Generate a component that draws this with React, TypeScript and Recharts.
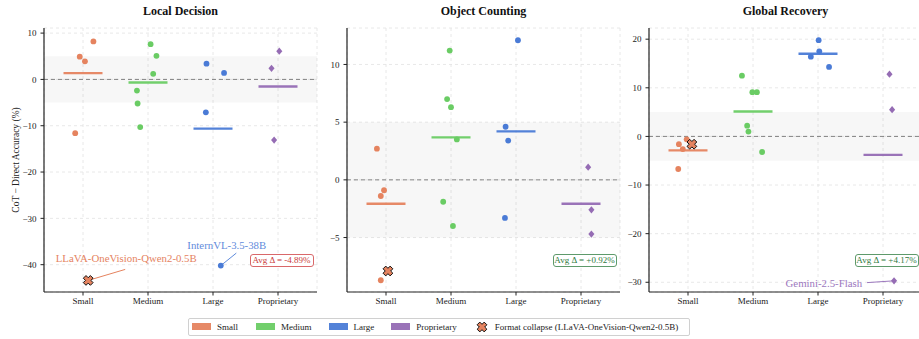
import React from "react";
import {
  ScatterChart,
  Scatter,
  XAxis,
  YAxis,
  CartesianGrid,
  ReferenceLine,
  ReferenceArea,
} from "recharts";

// ---------- data ----------
const categories = ["Small", "Medium", "Large", "Proprietary"];

// Local Decision (per category: values of CoT − Direct, and horizontal jitter)
const localValues = [
  [8.2, 4.9, 3.9, -11.6],
  [7.6, 5.1, 1.2, -2.4, -5.2, -10.3],
  [3.4, 1.4, -7.1, -40.2],
  [6.1, 2.4, -13.1],
];
const localJitter = [
  [0.16, -0.05, 0.03, -0.12],
  [0.04, 0.13, 0.08, -0.17, -0.16, -0.12],
  [-0.1, 0.17, -0.11, 0.12],
  [0.02, -0.1, -0.06],
];
const localCollapse = [-43.4];
const localCollapseJitter = [0.08];
const localAvg = "Avg Δ = -4.89%";

// Object Counting
const countingValues = [
  [2.7, -0.9, -1.4, -8.7],
  [11.2, 7.0, 6.3, 3.5, -1.9, -4.0],
  [12.1, 4.6, 3.4, -3.3],
  [1.1, -2.6, -4.7],
];
const countingJitter = [
  [-0.14, -0.03, -0.08, -0.08],
  [-0.02, -0.06, 0.0, 0.09, -0.12, 0.03],
  [0.03, -0.16, -0.12, -0.17],
  [0.11, 0.16, 0.16],
];
const countingCollapse = [-7.9];
const countingCollapseJitter = [0.03];
const countingAvg = "Avg Δ = +0.92%";

// Global Recovery
const globalValues = [
  [-1.6, -0.6, -2.6, -6.7],
  [12.5, 9.1, 9.1, 2.2, 1.0, -3.2],
  [19.8, 17.5, 16.4, 14.3],
  [12.8, 5.5, -29.7],
];
const globalJitter = [
  [-0.14, -0.02, -0.08, -0.15],
  [-0.17, -0.01, 0.06, -0.09, -0.07, 0.14],
  [0.01, 0.02, -0.11, 0.17],
  [0.1, 0.14, 0.17],
];
const globalCollapse = [-1.6];
const globalCollapseJitter = [0.06];
const globalAvg = "Avg Δ = +4.17%";

// named outliers: [panel, category index, point index, name]
const localNamed = [[2, 3, "InternVL-3.5-38B"]];
const countingNamed: any[] = [];
const globalNamed = [[3, 2, "Gemini-2.5-Flash"]];
const localCollapseName = "LLaVA-OneVision-Qwen2-0.5B";

// ---------- styles ----------
const FONT = '"Liberation Serif", "Times New Roman", "DejaVu Serif", serif';
const COLORS = ["#E5835F", "#6ACC64", "#4A7BD6", "#956CB4"];
const GOOD = { text: "#2F7A3E", border: "#5E9A6B" };
const BAD = { text: "#C93A3A", border: "#D9686A" };

const annotationStyle: Record<string, any> = {
  "LLaVA-OneVision-Qwen2-0.5B": { tx: 38, ty: -22, lx: 37, ly: -11, anchor: "middle", color: COLORS[0] },
  "InternVL-3.5-38B": { tx: 6, ty: -21, lx: 15.5, ly: -12.5, anchor: "middle", color: "#5F8BDB" },
  "Gemini-2.5-Flash": { tx: -32, ty: 1.8, lx: -27, ly: 1.8, anchor: "end", color: "#9C78BE" },
};

function Annotation({ cx, cy, name }: any) {
  const s = annotationStyle[name];
  if (!s) return null;
  return (
    <g>
      <line x1={cx} y1={cy} x2={cx + s.lx} y2={cy + s.ly} stroke={s.color} strokeWidth={1} />
      <text
        x={cx + s.tx}
        y={cy + s.ty}
        textAnchor={s.anchor}
        dominantBaseline="central"
        fontFamily={FONT}
        fontSize={10.8}
        fill={s.color}
      >
        {name}
      </text>
    </g>
  );
}

function Dot(props: any) {
  const { cx, cy, payload, fill } = props;
  if (cx == null || cy == null) return null;
  return (
    <g>
      {payload.name ? <Annotation cx={cx} cy={cy} name={payload.name} /> : null}
      <circle cx={cx} cy={cy} r={2.9} fill={fill} />
    </g>
  );
}

function Diamond(props: any) {
  const { cx, cy, payload, fill } = props;
  if (cx == null || cy == null) return null;
  const r = 3.6;
  return (
    <g>
      {payload.name ? <Annotation cx={cx} cy={cy} name={payload.name} /> : null}
      <path d={`M${cx},${cy - r}L${cx + r * 0.85},${cy}L${cx},${cy + r}L${cx - r * 0.85},${cy}Z`} fill={fill} />
    </g>
  );
}

function crossPath(cx: number, cy: number, a: number, b: number) {
  const pts = [
    [-b, -a], [b, -a], [b, -b], [a, -b], [a, b], [b, b], [b, a], [-b, a], [-b, b], [-a, b], [-a, -b], [-b, -b],
  ];
  const c = Math.SQRT1_2;
  return (
    "M" +
    pts
      .map(([x, y]) => `${cx + (x - y) * c},${cy + (x + y) * c}`)
      .join("L") +
    "Z"
  );
}

function CrossMarker(props: any) {
  const { cx, cy, payload } = props;
  if (cx == null || cy == null) return null;
  return (
    <g>
      {payload && payload.name ? <Annotation cx={cx} cy={cy} name={payload.name} /> : null}
      <path d={crossPath(cx, cy, 5, 1.9)} fill={COLORS[0]} stroke="#111" strokeWidth={1} />
    </g>
  );
}

const fmt = (v: number) => (v < 0 ? "−" + Math.abs(v) : String(v));

function Panel({
  left, width, yWidth, values, jitter, collapse, collapseJitter, collapseName, named, domain, ticks, title, avg, avgGood,
}: any) {
  const series = values.map((vals: number[], ci: number) =>
    vals.map((v, i) => {
      const n = named.find((m: any) => m[0] === ci && m[1] === i);
      return { x: ci + jitter[ci][i], y: v, name: n ? n[2] : undefined };
    })
  );
  const means = values.map((vals: number[]) => vals.reduce((a, b) => a + b, 0) / vals.length);
  const collapseData = collapse.map((v: number, i: number) => ({
    x: collapseJitter[i],
    y: v,
    name: collapseName,
  }));
  const H = 339;
  const mTop = 28;
  const xH = 47;
  const plotLeft = yWidth;
  const plotRight = width - 3;
  const boxW = 64;
  const boxC = avgGood ? GOOD : BAD;
  return (
    <div style={{ position: "absolute", left, top: 0, width, height: H }}>
      <ScatterChart width={width} height={H} margin={{ top: mTop, right: 3, bottom: 0, left: 0 }}>
        <CartesianGrid strokeDasharray="3 3" stroke="#e2e2e2" strokeWidth={0.8} />
        <ReferenceArea y1={-5} y2={5} fill="#000" fillOpacity={0.03} stroke="none" />
        <XAxis
          type="number"
          dataKey="x"
          domain={[-0.6, 3.6]}
          ticks={[0, 1, 2, 3]}
          tickFormatter={(i: number) => categories[i]}
          allowDataOverflow
          height={xH}
          tickSize={3.5}
          tickMargin={2}
          axisLine={{ stroke: "#222", strokeWidth: 1.2 }}
          tickLine={{ stroke: "#222" }}
          tick={{ fontSize: 9, fill: "#222", fontFamily: FONT }}
        />
        <YAxis
          type="number"
          dataKey="y"
          domain={domain}
          ticks={ticks}
          allowDataOverflow
          width={yWidth}
          tickSize={3.5}
          tickMargin={4}
          tickFormatter={fmt}
          axisLine={{ stroke: "#222", strokeWidth: 1.2 }}
          tickLine={{ stroke: "#222" }}
          tick={{ fontSize: 9, fill: "#222", fontFamily: FONT }}
        />
        <ReferenceLine y={0} stroke="#777" strokeDasharray="4 3" strokeWidth={0.9} />
        {means.map((m: number, ci: number) => (
          <ReferenceLine
            key={"m" + ci}
            segment={[
              { x: ci - 0.3, y: m },
              { x: ci + 0.3, y: m },
            ]}
            stroke={COLORS[ci]}
            strokeWidth={2.4}
            strokeOpacity={0.95}
          />
        ))}
        {series.map((d: any[], ci: number) => (
          <Scatter
            key={categories[ci]}
            name={categories[ci]}
            data={d}
            fill={COLORS[ci]}
            isAnimationActive={false}
            shape={ci === 3 ? <Diamond /> : <Dot />}
          />
        ))}
        <Scatter name="Format collapse" data={collapseData} fill={COLORS[0]} isAnimationActive={false} shape={<CrossMarker />} />
      </ScatterChart>
      <div
        style={{
          position: "absolute",
          left: plotLeft,
          width: plotRight - plotLeft,
          top: 4,
          textAlign: "center",
          fontFamily: FONT,
          fontWeight: "bold",
          fontSize: 12,
          color: "#111",
        }}
      >
        {title}
      </div>
      <div
        style={{
          position: "absolute",
          left: plotRight - 3.5 - boxW,
          top: 254,
          width: boxW,
          height: 13,
          boxSizing: "border-box",
          border: `1px solid ${boxC.border}`,
          borderRadius: 3,
          background: "#fff",
          fontFamily: FONT,
          fontSize: 9,
          lineHeight: "11px",
          textAlign: "center",
          color: boxC.text,
          whiteSpace: "nowrap",
        }}
      >
        {avg}
      </div>
    </div>
  );
}

function LegendItem({ color, label, ml }: any) {
  return (
    <div style={{ display: "flex", alignItems: "center", marginLeft: ml }}>
      <div style={{ width: 19, height: 7.5, background: color, opacity: 0.95 }} />
      <span style={{ marginLeft: 6 }}>{label}</span>
    </div>
  );
}

export default function App() {
  return (
    <div style={{ position: "absolute", left: 0, top: 0, width: 919, height: 339, overflow: "hidden", background: "#fff" }}>
      <Panel
        left={0}
        width={320}
        yWidth={44}
        values={localValues}
        jitter={localJitter}
        collapse={localCollapse}
        collapseJitter={localCollapseJitter}
        collapseName={localCollapseName}
        named={localNamed}
        domain={[-45.9, 11.1]}
        ticks={[-40, -30, -20, -10, 0, 10]}
        title="Local Decision"
        avg={localAvg}
        avgGood={false}
      />
      <Panel
        left={305}
        width={318}
        yWidth={42}
        values={countingValues}
        jitter={countingJitter}
        collapse={countingCollapse}
        collapseJitter={countingCollapseJitter}
        collapseName={undefined}
        named={countingNamed}
        domain={[-9.72, 13.16]}
        ticks={[-5, 0, 5, 10]}
        title="Object Counting"
        avg={countingAvg}
        avgGood={true}
      />
      <Panel
        left={607}
        width={318}
        yWidth={42}
        values={globalValues}
        jitter={globalJitter}
        collapse={globalCollapse}
        collapseJitter={globalCollapseJitter}
        collapseName={undefined}
        named={globalNamed}
        domain={[-32, 22.3]}
        ticks={[-30, -20, -10, 0, 10, 20]}
        title="Global Recovery"
        avg={globalAvg}
        avgGood={true}
      />
      <svg style={{ position: "absolute", left: 0, top: 0, pointerEvents: "none" }} width={30} height={339}>
        <text
          x={16}
          y={160}
          transform="rotate(-90 16 160)"
          textAnchor="middle"
          dominantBaseline="central"
          fontFamily={FONT}
          fontSize={9.5}
          fill="#222"
        >
          CoT − Direct Accuracy (%)
        </text>
      </svg>
      <div
        style={{
          position: "absolute",
          left: 188,
          top: 317.5,
          width: 502,
          height: 18,
          boxSizing: "border-box",
          border: "1px solid #d0d0d0",
          borderRadius: 2,
          display: "flex",
          alignItems: "center",
          fontFamily: FONT,
          fontSize: 9,
          color: "#222",
          whiteSpace: "nowrap",
        }}
      >
        <LegendItem color={COLORS[0]} label="Small" ml={3} />
        <LegendItem color={COLORS[1]} label="Medium" ml={18} />
        <LegendItem color={COLORS[2]} label="Large" ml={17} />
        <LegendItem color={COLORS[3]} label="Proprietary" ml={17} />
        <div style={{ display: "flex", alignItems: "center", marginLeft: 19 }}>
          <svg width={12} height={12}>
            <path d={crossPath(6, 6, 5, 1.9)} fill={COLORS[0]} stroke="#111" strokeWidth={1} />
          </svg>
          <span style={{ marginLeft: 7 }}>Format collapse (LLaVA-OneVision-Qwen2-0.5B)</span>
        </div>
      </div>
    </div>
  );
}
